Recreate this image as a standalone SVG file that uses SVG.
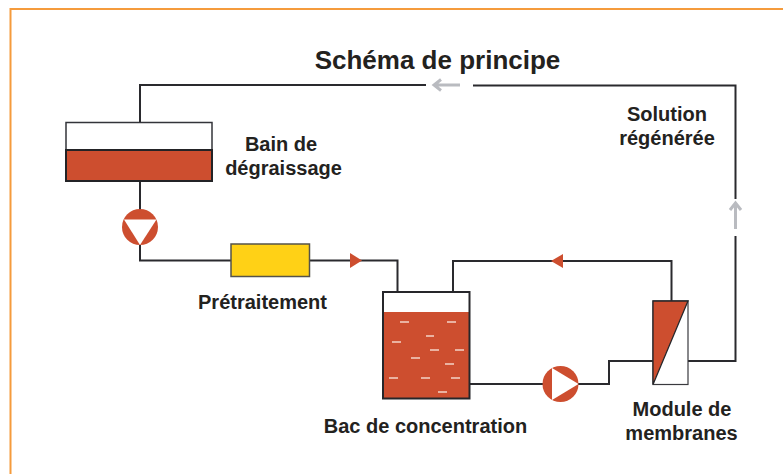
<svg xmlns="http://www.w3.org/2000/svg" width="783" height="474" viewBox="0 0 783 474">
<style>
text{font-family:"Liberation Sans",Arial,sans-serif;font-weight:700;fill:#23221e;text-anchor:middle;font-size:20px}
.l{fill:none;stroke:#2a2a2e;stroke-width:2}
.g{fill:none;stroke:#b9bbc0;stroke-width:3}
.r{fill:#cd4e2f}
.d{stroke:#f3d3c8;stroke-width:1.3}
</style>
<rect width="783" height="474" fill="#fff"/>
<path d="M783 9H10.500V474" fill="none" stroke="#f59b3c" stroke-width="2"/>
<text x="437.500" y="69" style="font-size:26px">Schéma de principe</text>
<g id="connectors">
<path class="l" d="M140 122V85H426"/>
<path class="l" d="M473 85.500H735.500V199"/>
<path class="l" d="M735.500 236V361H688"/>
<path class="g" d="M460 85H434M441 79.500L434 85L441 90.500"/>
<path class="g" d="M735.500 229V203M730 210L735.500 203L741 210"/>
<path class="l" d="M140 181V210"/>
<path class="l" d="M140 245V260.500H231"/>
<path class="l" d="M309 260.500H397.500V292"/>
<path class="r" d="M350 253V268L362 260.500Z"/>
<path class="l" d="M453 292V261H671.500V301"/>
<path class="r" d="M551 261L563 254V268Z"/>
<path class="l" d="M469 384H544"/>
<path class="l" d="M578 384H609V361H653"/>
</g>
<g id="bain">
<rect x="66" y="122.500" width="146" height="27.500" fill="#fff" stroke="#33343a" stroke-width="1.500"/>
<rect class="r" x="66" y="150" width="146" height="31" stroke="#232326" stroke-width="2"/>
<text x="281" y="150.500">Bain de</text>
<text x="283.500" y="175">dégraissage</text>
</g>
<g id="pompe1">
<circle class="r" cx="140" cy="227" r="18"/>
<path fill="#fff" d="M124 219.500H156.500L140 245Z"/>
</g>
<g id="pretraitement">
<rect x="231" y="244" width="78.500" height="32.500" fill="#ffd116" stroke="#55534a" stroke-width="1.500"/>
<text x="262.500" y="309">Prétraitement</text>
</g>
<g id="bac">
<rect x="383" y="292" width="86.500" height="106.500" fill="#fff"/>
<rect class="r" x="383" y="312" width="86.500" height="86.500"/>
<rect x="383" y="292" width="86.500" height="106.500" fill="none" stroke="#26262a" stroke-width="2"/>
<path class="d" d="M400 322h9M447 322h9M426 336h8M392 342h9M430 350h9M455 350h9M411 358h9M445 364h9M389 378h9M421 378h9M451 378h9M438 392h9"/>
<text x="425.500" y="433">Bac de concentration</text>
</g>
<g id="pompe2">
<circle class="r" cx="560.500" cy="384" r="18"/>
<path fill="#fff" d="M552 368L578.500 384L552 400Z"/>
</g>
<g id="module">
<rect x="653" y="301" width="35" height="83.500" fill="#fff" stroke="#3a3a3e" stroke-width="1.200"/>
<path class="r" d="M653 301H688L653 384Z"/>
<path d="M653 384.500L688 301H653Z" fill="none" stroke="#26262a" stroke-width="1.300"/>
<text x="682" y="416">Module de</text>
<text x="681.500" y="440">membranes</text>
</g>
<g id="solution">
<text x="667" y="121">Solution</text>
<text x="667" y="145">régénérée</text>
</g>
</svg>
